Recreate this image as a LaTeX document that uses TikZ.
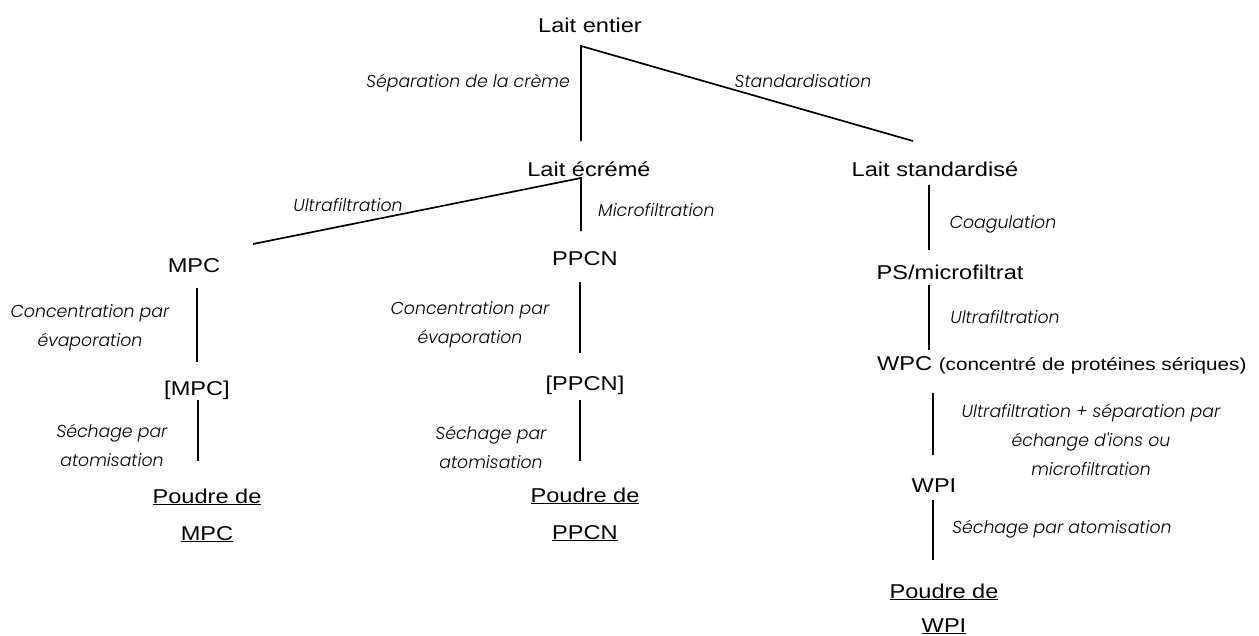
\documentclass[tikz,border=0pt]{standalone}
\usepackage{fontspec}
\setmainfont{Liberation Sans}[FakeStretch=1.18]
\newfontfamily\lblfont{Poppins Light Italic}
\usepackage{tikz}

\begin{document}
\begin{tikzpicture}[x=1pt,y=-1pt,
  prod/.style={inner sep=0pt,anchor=base,align=center,font=\fontsize{20}{37}\selectfont},
  lbl/.style={inner sep=0pt,anchor=base,align=center,font=\lblfont\fontsize{17.3}{29}\selectfont},
  link/.style={line width=1.7pt,line join=miter}]
\useasboundingbox (0,0) rectangle (1259,635);

% Top of the tree
\node[prod] (entier) at (590,32) {Lait entier};
\node[prod] (ecreme) at (589,176) {Lait écrémé};
\node[prod] (std) at (935,176) {Lait standardisé};
\coordinate (entier-fork) at (581,46);
\coordinate (ecreme-top) at (581,141);
\coordinate (std-top) at (913,141);
\draw[link] (ecreme-top) -- (entier-fork) -- (std-top);
\node[lbl,anchor=base east] (l-creme) at (570,87) {Séparation de la crème};
\node[lbl] (l-std) at (803,87) {Standardisation};

% Skimmed milk branch
\node[prod] (mpc) at (194,272) {MPC};
\node[prod] (ppcn) at (585,265) {PPCN};
\coordinate (ecreme-fork) at (581,178);
\coordinate (mpc-top) at (253,244);
\coordinate (ppcn-top) at (581,231);
\draw[link] (mpc-top) -- (ecreme-fork) -- (ppcn-top);
\node[lbl] (l-uf1) at (348,211) {Ultrafiltration};
\node[lbl,anchor=base west] (l-mf) at (598,216) {Microfiltration};

% MPC column
\node[prod] (cmpc) at (197,395) {[MPC]};
\node[prod] (pmpc) at (207,540) {\underline{Poudre de}\\\underline{MPC}};
\coordinate (mpc-bot) at (197,288);
\coordinate (cmpc-top) at (197,362);
\coordinate (cmpc-bot) at (198,400);
\coordinate (pmpc-top) at (198,461);
\draw[link] (mpc-bot) -- (cmpc-top);
\draw[link] (cmpc-bot) -- (pmpc-top);
\node[lbl] (l-conc1) at (90,346) {Concentration par\\évaporation};
\node[lbl] (l-sech1) at (112,466) {Séchage par\\atomisation};

% PPCN column
\node[prod] (cppcn) at (585,390) {[PPCN]};
\node[prod] (pppcn) at (585,539) {\underline{Poudre de}\\\underline{PPCN}};
\coordinate (ppcn-bot) at (580,282);
\coordinate (cppcn-top) at (580,353);
\coordinate (cppcn-bot) at (580,400);
\coordinate (pppcn-top) at (580,461);
\draw[link] (ppcn-bot) -- (cppcn-top);
\draw[link] (cppcn-bot) -- (pppcn-top);
\node[lbl] (l-conc2) at (470,343) {Concentration par\\évaporation};
\node[lbl] (l-sech2) at (491,468) {Séchage par\\atomisation};

% Standardised milk column
\node[prod] (ps) at (950,279) {PS/microfiltrat};
\node[prod,anchor=base west] (wpc) at (877,370) {WPC {\fontsize{17.5}{20}\selectfont(concentré de protéines sériques)}};
\node[prod] (wpi) at (934,492) {WPI};
\node[prod,font=\fontsize{20}{34}\selectfont] (pwpi) at (944,632) {\underline{Poudre de}\\\underline{WPI}};
\coordinate (std-bot) at (929,185);
\coordinate (ps-top) at (929,250);
\coordinate (ps-bot) at (929,285);
\coordinate (wpc-top) at (929,350);
\coordinate (wpc-bot) at (933,393);
\coordinate (wpi-top) at (933,455);
\coordinate (wpi-bot) at (933,500);
\coordinate (pwpi-top) at (933,560);
\draw[link] (std-bot) -- (ps-top);
\draw[link] (ps-bot) -- (wpc-top);
\draw[link] (wpc-bot) -- (wpi-top);
\draw[link] (wpi-bot) -- (pwpi-top);
\node[lbl] (l-coag) at (1003,228) {Coagulation};
\node[lbl] (l-uf2) at (1005,323) {Ultrafiltration};
\node[lbl] (l-uf3) at (1091,475) {Ultrafiltration + séparation par\\échange d'ions ou\\microfiltration};
\node[lbl] (l-sech3) at (1062,533) {Séchage par atomisation};
\end{tikzpicture}
\end{document}
